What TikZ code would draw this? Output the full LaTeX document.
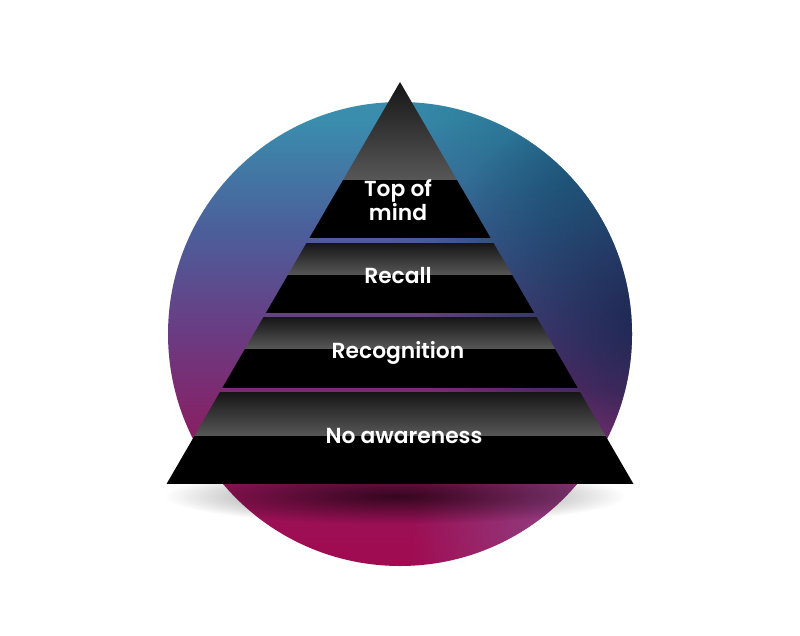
\documentclass[tikz,border=0pt]{standalone}
\usepackage{fontspec}
\setmainfont{Poppins}[BoldFont=Poppins SemiBold]
\usetikzlibrary{fadings}

\definecolor{ringteal}{HTML}{3A8DAD}
\definecolor{ringdeepteal}{HTML}{1E6585}
\definecolor{ringblue}{HTML}{4C5E9A}
\definecolor{ringpurple}{HTML}{6B3B82}
\definecolor{ringberry}{HTML}{8C1C60}
\definecolor{ringmagenta}{HTML}{A00C52}
\definecolor{ringnavy}{HTML}{18264F}
\definecolor{ringmauve}{HTML}{8E4E90}
\definecolor{bandtop}{HTML}{161616}
\definecolor{bandbot}{HTML}{575757}

\pgfdeclareverticalshading{ringshade}{100bp}{color(0bp)=(ringmagenta); color(27bp)=(ringmagenta);
  color(38bp)=(ringberry); color(50bp)=(ringpurple); color(61bp)=(ringblue);
  color(73bp)=(ringteal); color(100bp)=(ringteal)}
\tikzfading[name=glow, inner color=transparent!0, outer color=transparent!100]

\begin{document}
\begin{tikzpicture}
  [x=0.025cm, y=-0.025cm,
   band/.style={top color=bandtop, bottom color=bandbot},
   tier text/.style={text=white, align=center, inner sep=0pt,
     font=\fontsize{15.5}{16.5}\selectfont\bfseries}
  ]
  \useasboundingbox (0,0) rectangle (800,636);

  % circle behind the pyramid
  \coordinate (ctr) at (400,334);
  \shade [shading=ringshade] (ctr) circle (232);
  \begin{scope}
    \clip (ctr) circle (232);
    \fill [ringdeepteal, opacity=.9, path fading=glow] (570,180) circle (190);
    \fill [ringnavy, opacity=.95, path fading=glow] (650,320) circle (230);
    \fill [ringmauve, opacity=.85, path fading=glow] (570,545) circle (160);
  \end{scope}

  % shadow under the base
  \fill [black, opacity=.65, path fading=glow] (395,496) ellipse (230 and 28);

  % pyramid
  \coordinate (apex) at (400,82);
  \coordinate (bl) at (166.5,484);
  \coordinate (br) at (633.5,484);
  \begin{scope}
    \clip (apex) -- (br) -- (bl) -- cycle;
    \shade [band] (150,82)  rectangle (650,180);
    \fill         (150,180) rectangle (650,238);
    \shade [band] (150,243) rectangle (650,275);
    \fill         (150,275) rectangle (650,313);
    \shade [band] (150,317) rectangle (650,349);
    \fill         (150,349) rectangle (650,388);
    \shade [band] (150,392) rectangle (650,436);
    \fill         (150,436) rectangle (650,484);
  \end{scope}

  \node (top)    [tier text] at (398,200) {Top of\\mind};
  \node (recall) [tier text] at (398,276) {Recall};
  \node (recog)  [tier text] at (398,353) {Recognition};
  \node (none)   [tier text] at (404,436) {No awareness};
\end{tikzpicture}
\end{document}
